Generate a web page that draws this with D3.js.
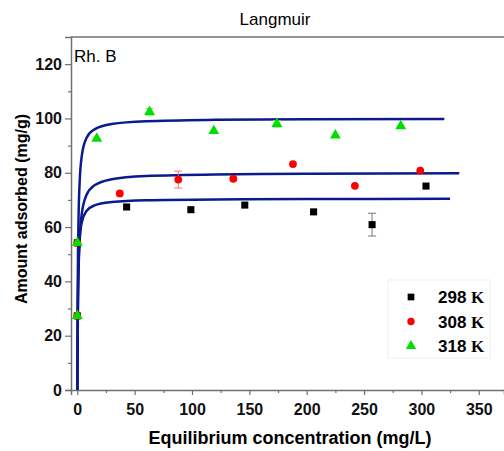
<!DOCTYPE html>
<html>
<head>
<meta charset="utf-8">
<script src="https://d3js.org/d3.v7.min.js"></script>
<style>
  body { margin: 0; background: #fff; }
  text { font-family: Arial, "Liberation Sans", sans-serif; }
</style>
</head>
<body>
<div id="chart"></div>
<script>
// measured points (C in mg/L, q in mg/g)
var c298 = [0, 0, 43, 99, 146, 206, 257, 304];
var q298 = [27.3, 54.2, 67.4, 66.4, 68.1, 65.6, 60.9, 75.1];
var e298 = [0, 0, 0, 0, 0, 0, 4.2, 0];

var c308 = [0, 0, 37, 88, 136, 188, 242, 299];
var q308 = [27.3, 54.2, 72.4, 77.5, 77.8, 83.2, 75.2, 80.8];
var e308 = [0, 0, 0, 3.1, 0, 0, 0, 0];

var c318 = [0, 0, 17, 63, 119, 174, 225, 282];
var q318 = [27.3, 54.2, 92.6, 102.4, 95.4, 98.0, 93.8, 97.2];
var e318 = [0, 0, 0, 1.2, 0, 1.2, 0, 0];

// Langmuir fit lines
var fitC298 = [0, 0.5, 1, 2, 4, 8, 15, 30, 60, 120, 200, 325];
var fitQ298 = [0, 33.4, 45.3, 55.2, 61.9, 65.9, 68.0, 69.2, 69.9, 70.2, 70.3, 70.4];
var fitC308 = [0, 0.5, 1, 2, 4, 8, 15, 30, 60, 120, 200, 333];
var fitQ308 = [0, 28.4, 41.9, 55.0, 65.2, 71.8, 75.4, 77.6, 78.8, 79.4, 79.6, 79.8];
var fitC318 = [0, 0.5, 1, 2, 4, 8, 15, 30, 60, 120, 200, 320];
var fitQ318 = [0, 44.4, 61.5, 76.2, 86.5, 92.8, 96.0, 98.0, 99.0, 99.5, 99.7, 99.8];

var xTicks = [0, 50, 100, 150, 200, 250, 300, 350];
var yTicks = [0, 20, 40, 60, 80, 100, 120];
var seriesNames = ['298', '308', '318'];

var w = 504, h = 451;
var pLeft = 71, pTop = 37, pRight = 504, pBottom = 390;
var axisColor = '#707070';

var svg = d3.select('#chart').append('svg')
  .attr('width', w)
  .attr('height', h);

var x = d3.scaleLinear().domain([-5.5, 372]).range([pLeft, pRight]);
var y = d3.scaleLinear().domain([0, 130]).range([pBottom, pTop]);

// clip for curves
svg.append('defs').append('clipPath').attr('id', 'clip')
  .append('rect').attr('x', pLeft).attr('y', pTop)
  .attr('width', pRight - pLeft).attr('height', pBottom - pTop);

////////////////////////
// Axes
////////////////////////
var xAxis = svg.append('g').attr('transform', 'translate(0,' + pBottom + ')')
  .call(d3.axisBottom(x).tickValues(d3.range(0, 375, 25)).tickSize(5)
    .tickFormat(function(d) { return xTicks.indexOf(d) >= 0 ? d : ''; }));
xAxis.selectAll('.tick line')
  .attr('y2', function(d) { return xTicks.indexOf(d) >= 0 ? 5 : 3; });

var yAxis = svg.append('g').attr('transform', 'translate(' + pLeft + ',0)')
  .call(d3.axisLeft(y).tickValues(d3.range(0, 130, 10)).tickSize(6)
    .tickFormat(function(d) { return yTicks.indexOf(d) >= 0 ? d : ''; }));
yAxis.selectAll('.tick line')
  .attr('x2', function(d) { return yTicks.indexOf(d) >= 0 ? -6 : -3; });

[xAxis, yAxis].forEach(function(a) {
  a.select('.domain').attr('stroke', axisColor).attr('stroke-width', 1.5);
  a.selectAll('.tick line').attr('stroke', axisColor).attr('stroke-width', 1.2);
  a.selectAll('.tick text')
    .style('font-size', '16px').style('font-weight', 'bold').attr('fill', '#111');
});
xAxis.selectAll('.tick text').attr('y', 25).attr('dy', null);
yAxis.selectAll('.tick text').attr('x', -9);

// top frame line
svg.append('line')
  .attr('x1', pLeft).attr('x2', pRight)
  .attr('y1', pTop).attr('y2', pTop)
  .attr('stroke', axisColor).attr('stroke-width', 1.5);

////////////////////////
// Fit curves
////////////////////////
var line = d3.line()
  .x(function(d) { return x(d[0]); })
  .y(function(d) { return y(d[1]); })
  .curve(d3.curveMonotoneX);

var fits = [[fitC298, fitQ298], [fitC308, fitQ308], [fitC318, fitQ318]];
var plot = svg.append('g').attr('clip-path', 'url(#clip)');
plot.selectAll('path.fit')
  .data(fits)
  .enter().append('path')
  .attr('class', 'fit')
  .attr('d', function(f) { return line(d3.zip(f[0], f[1])); })
  .attr('fill', 'none')
  .attr('stroke', '#0b1a8c')
  .attr('stroke-width', 2.5);

////////////////////////
// Points
////////////////////////
var colors = ['#000000', '#ff0000', '#00e000'];
var errColors = ['#777777', '#ff7070', '#70e070'];
var shapes = [d3.symbolSquare, d3.symbolCircle, d3.symbolTriangle];
var sizes = [50, 48, 52];
var sets = [[c298, q298, e298], [c308, q308, e308], [c318, q318, e318]];

sets.forEach(function(s, k) {
  var pts = d3.zip(s[0], s[1], s[2]);
  var g = svg.append('g');
  g.selectAll('path.err')
    .data(pts.filter(function(d) { return d[2] > 0; }))
    .enter().append('path')
    .attr('class', 'err')
    .attr('d', function(d) {
      var px = x(d[0]), y1 = y(d[1] + d[2]), y2 = y(d[1] - d[2]);
      return 'M' + (px - 4) + ',' + y1 + 'H' + (px + 4) + 'M' + px + ',' + y1 + 'V' + y2 +
        'M' + (px - 4) + ',' + y2 + 'H' + (px + 4);
    })
    .attr('stroke', errColors[k]).attr('stroke-width', 1).attr('fill', 'none');
  g.selectAll('path.pt')
    .data(pts)
    .enter().append('path')
    .attr('class', 'pt')
    .attr('d', d3.symbol().type(shapes[k]).size(sizes[k]))
    .attr('transform', function(d) { return 'translate(' + x(d[0]) + ',' + y(d[1]) + ')'; })
    .attr('fill', colors[k]);
});

////////////////////////
// Legend
////////////////////////
var legend = svg.append('g').attr('transform', 'translate(388,280)');
legend.append('rect')
  .attr('width', 102).attr('height', 78)
  .attr('fill', '#fff').attr('stroke', '#eeeeee').attr('stroke-width', 1);
seriesNames.forEach(function(n, i) {
  var ly = 17 + i * 24.5;
  legend.append('path')
    .attr('d', d3.symbol().type(shapes[i]).size(sizes[i] * 0.9))
    .attr('transform', 'translate(23,' + ly + ')')
    .attr('fill', colors[i]);
  var t = legend.append('text')
    .attr('x', 50).attr('y', ly + 6)
    .style('font-size', '17px').style('font-weight', 'bold');
  t.append('tspan').text(n + ' ');
  t.append('tspan').style('font-family', '"Liberation Serif", "Times New Roman", serif').text('K');
});

////////////////////////
// Texts
////////////////////////
svg.append('text')
  .attr('x', 275).attr('y', 25)
  .attr('text-anchor', 'middle')
  .style('font-size', '17px')
  .text('Langmuir');

svg.append('text')
  .attr('x', 74).attr('y', 62)
  .style('font-size', '17px')
  .text('Rh. B');

svg.append('text')
  .attr('transform', 'translate(27,209) rotate(-90)')
  .attr('text-anchor', 'middle')
  .style('font-size', '16px').style('font-weight', 'bold')
  .text('Amount adsorbed (mg/g)');

svg.append('text')
  .attr('x', 290).attr('y', 444)
  .attr('text-anchor', 'middle')
  .style('font-size', '18px').style('font-weight', 'bold')
  .text('Equilibrium concentration (mg/L)');
</script>
</body>
</html>
